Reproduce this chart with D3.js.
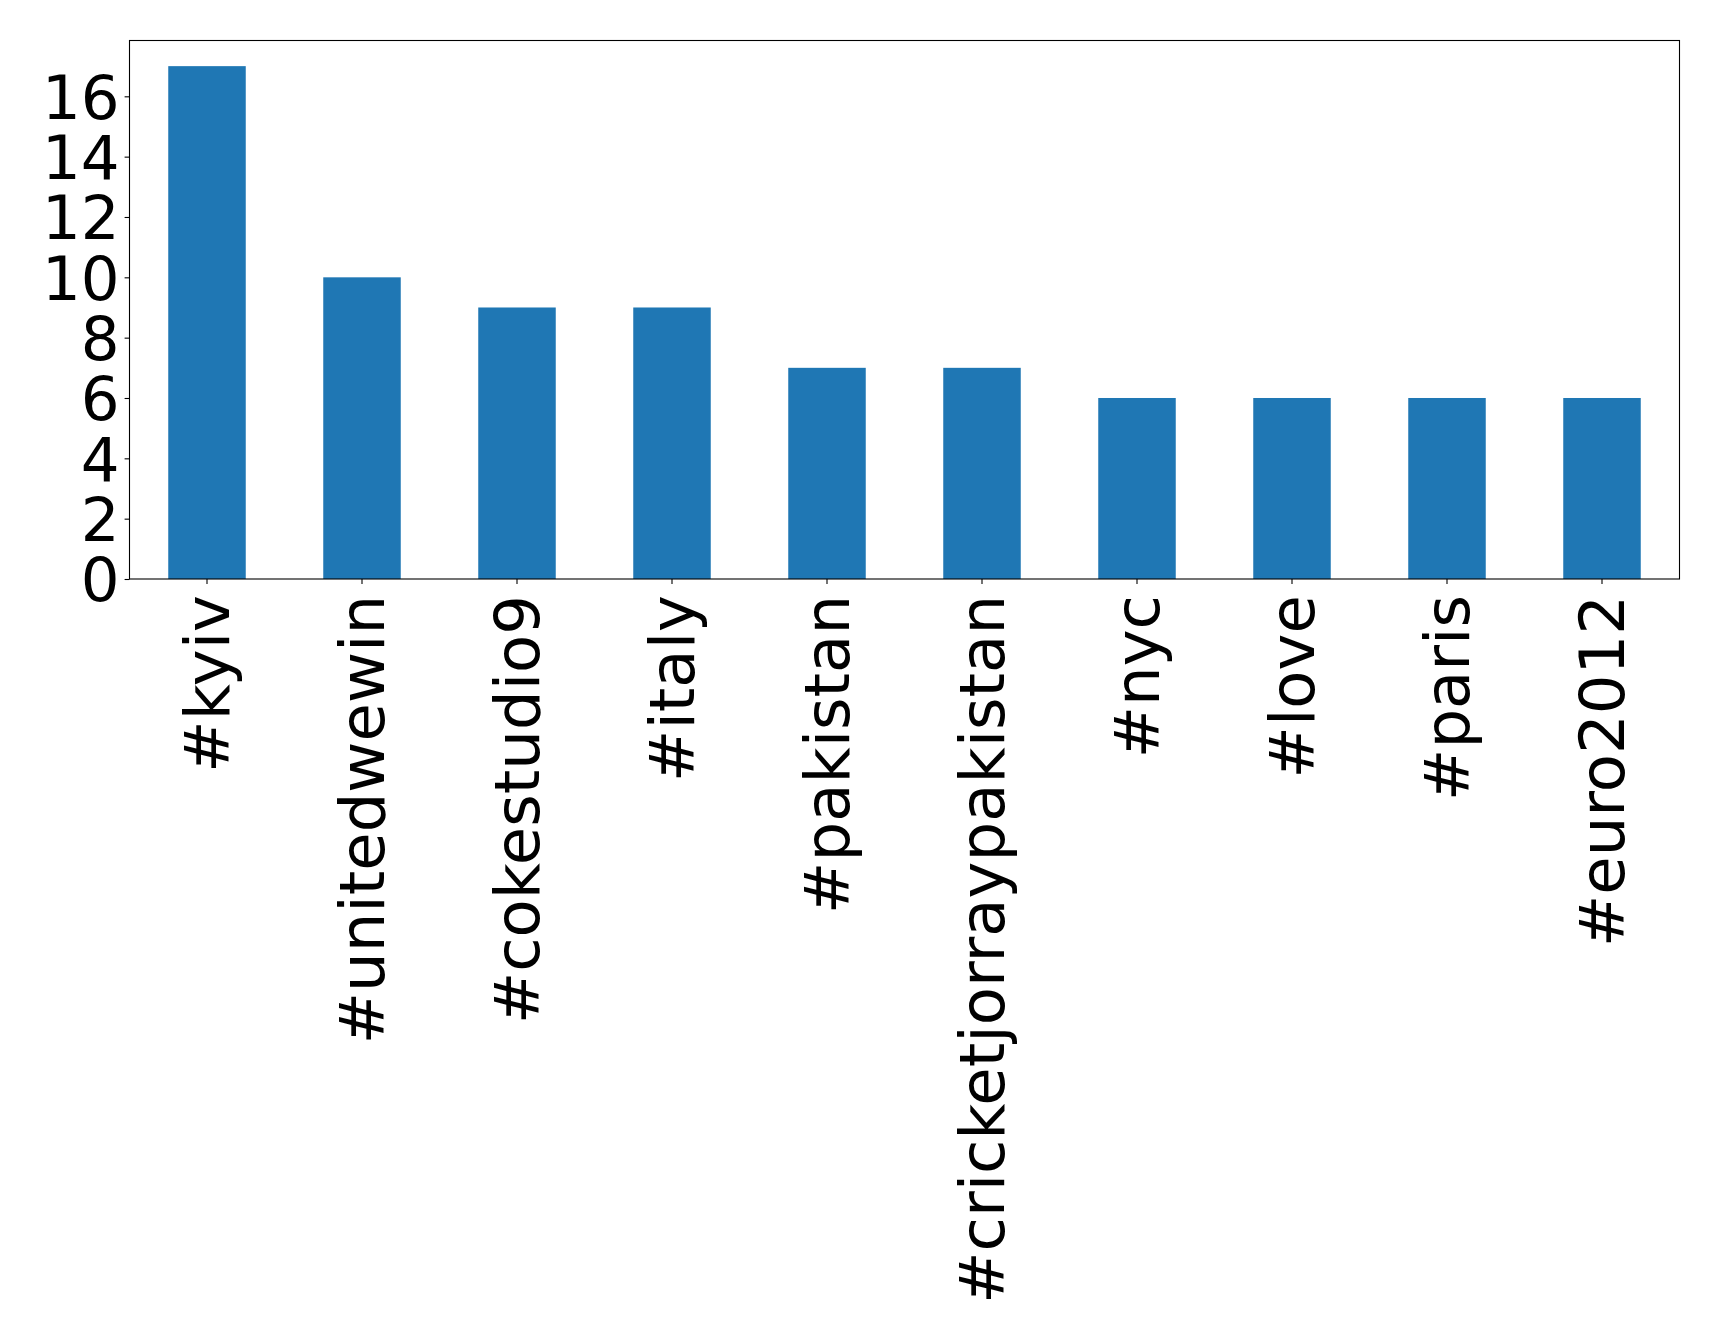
<!DOCTYPE html>
<html><head><meta charset="utf-8">
<script src="https://cdn.jsdelivr.net/npm/d3@7"></script>
<style>html,body{margin:0;padding:0;background:#fff;}</style>
</head><body>
<svg id="chart" width="1719" height="1337"></svg>
<script>
const categories = ["#kyiv","#unitedwewin","#cokestudio9","#italy","#pakistan","#cricketjorraypakistan","#nyc","#love","#paris","#euro2012"];
const values = [17,10,9,9,7,7,6,6,6,6];
const yTicks = [0,2,4,6,8,10,12,14,16];

const svg = d3.select("#chart");
const L = 129.5, R = 1679.5, T = 40.5, B = 579;
const font = "DejaVu Sans";
const fs = 61;
const fsx = 62.5;

const x = d3.scaleBand().domain(categories).range([L, R]).paddingInner(0.5).paddingOuter(0.25);
const y = d3.scaleLinear().domain([0, d3.max(values) * 1.05]).range([B, T]);

svg.append("g").selectAll("rect").data(categories).join("rect")
  .attr("x", d => x(d)).attr("width", x.bandwidth())
  .attr("y", (d, i) => y(values[i])).attr("height", (d, i) => B - y(values[i]))
  .attr("fill", "#1f77b4");

svg.append("rect").attr("x", L).attr("y", T).attr("width", R - L).attr("height", B - T)
  .attr("fill", "none").attr("stroke", "#000").attr("stroke-width", 1.1);

const yAxis = svg.append("g").attr("transform", `translate(${L},0)`)
  .call(d3.axisLeft(y).tickValues(yTicks).tickSize(4.9).tickPadding(5).tickFormat(d3.format("d")));
yAxis.select(".domain").remove();
yAxis.selectAll("line").attr("stroke", "#000").attr("stroke-width", 1.1);
yAxis.selectAll("text").attr("font-family", font).attr("font-size", fs).attr("fill", "#000").attr("dy", "0.36em");

const xAxis = svg.append("g").attr("transform", `translate(0,${B})`)
  .call(d3.axisBottom(x).tickSize(4.9).tickPadding(0));
xAxis.select(".domain").remove();
xAxis.selectAll("line").attr("stroke", "#000").attr("stroke-width", 1.1);
xAxis.selectAll("text")
  .attr("font-family", font).attr("font-size", fsx).attr("fill", "#000")
  .attr("text-anchor", "end")
  .attr("transform", "translate(0,16) rotate(-90)")
  .attr("x", 0).attr("y", 0).attr("dy", "0.35em");
</script>
</body></html>
